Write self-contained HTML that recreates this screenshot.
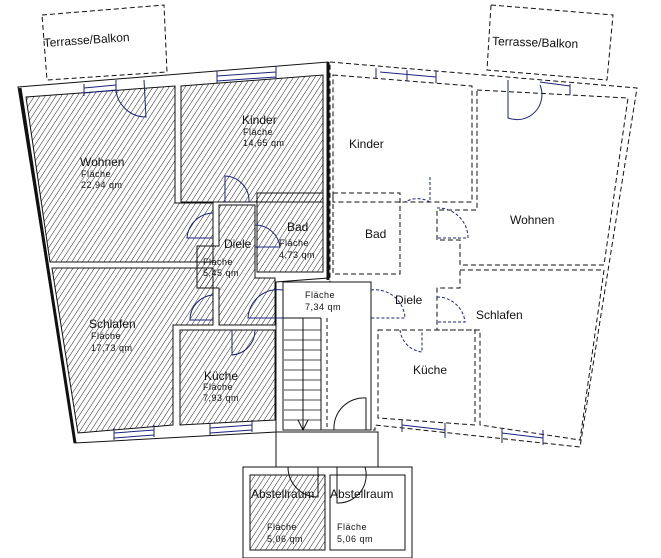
<!DOCTYPE html>
<html><head><meta charset="utf-8"><style>
html,body{margin:0;padding:0;background:#fff;}
svg{display:block}
text{font-family:"Liberation Sans",sans-serif;fill:#111}
.t{font-size:12px}.s{font-size:9px;letter-spacing:0.5px}
</style></head><body>
<svg width="661" height="558" viewBox="0 0 661 558" xmlns="http://www.w3.org/2000/svg">
<defs>
<pattern id="h" width="4.5" height="5" patternUnits="userSpaceOnUse" patternTransform="rotate(33)">
<line x1="0" y1="0" x2="0" y2="5" stroke="#222" stroke-width="1"/>
</pattern>
</defs>
<g fill="none" stroke="#111" stroke-width="1">
<polygon points="42,15 164,5 167,72 47,80" stroke-dasharray="5,3"/>
<polygon points="491,5 613,15 607,80 487,70" stroke-dasharray="5,3"/>
<polygon points="18,87 328,62 328,278 276,282 276,432 75,443"/>
<line x1="20" y1="88" x2="75" y2="443" stroke-width="3"/>
<line x1="328" y1="62" x2="328" y2="280" stroke-width="3"/>
</g>
<g fill="url(#h)" stroke="#111" stroke-width="1">
<polygon points="26,97 175,86 175,203 213,203 213,262 50,262"/>
<polygon points="181,86 323,75 323,202 181,202"/>
<polygon points="257,193 323,193 323,272 257,272"/>
<polygon points="219,205 255,205 255,278 275,278 275,325 219,325 219,288 197,288 197,246 219,246"/>
<polygon points="52,268 213,268 213,325 173,325 173,425 78,433"/>
<polygon points="180,330 275,330 275,420 180,425"/>
<polygon points="250,475 325,475 325,550 250,550"/>
</g>
<g fill="none" stroke="#111" stroke-width="1">
<rect x="283" y="282" width="88" height="148"/>
<line x1="283" y1="318" x2="321" y2="318"/><line x1="321" y1="318" x2="321" y2="430"/>
<line x1="303" y1="318" x2="303" y2="430"/>
<g stroke-width="0.8">
<line x1="284" y1="330" x2="321" y2="330"/><line x1="284" y1="340" x2="321" y2="340"/><line x1="284" y1="350" x2="321" y2="350"/><line x1="284" y1="360" x2="321" y2="360"/><line x1="284" y1="370" x2="321" y2="370"/><line x1="284" y1="380" x2="321" y2="380"/><line x1="284" y1="390" x2="321" y2="390"/><line x1="284" y1="400" x2="321" y2="400"/><line x1="284" y1="410" x2="321" y2="410"/><line x1="284" y1="420" x2="321" y2="420"/>
</g>
<polyline points="298,420 303,430 308,420"/>
<line x1="327" y1="318" x2="327" y2="430" stroke-dasharray="4,3"/>
<path d="M334,430 A30,30 0 0 1 366,398 L366,430"/>
<rect x="276" y="432" width="102" height="35"/>
<rect x="243" y="467" width="169" height="91"/>
<rect x="330" y="475" width="75" height="75"/>
<path d="M288,467 A30,30 0 0 0 318,497 L318,467"/>
<path d="M337,467 L337,503 A28,28 0 0 0 365,467"/>
<g stroke-dasharray="5,3">
<polygon points="330,62 637,88 580,447 375,425 375,430 371,430 371,282 330,282"/>
<polygon points="333,75 472,86 472,202 333,202"/>
<polygon points="333,193 400,193 400,274 333,274"/>
<polygon points="477,90 628,98 604,265 460,265 460,240 437,240 437,210 477,210"/>
<polygon points="460,270 604,270 580,440 480,425 480,330 437,330 437,288 460,288"/>
<polygon points="378,330 475,330 475,425 378,418"/>
</g>
</g>
<g fill="none" stroke="#1a237e" stroke-width="1">
<path d="M84,88 L116,85 M84,93 L116,90 M84,84 L84,96 M116,80 L116,93"/>
<path d="M116,85 A30,30 0 0 0 146,117 L144,80"/>
<path d="M217,76 L276,72 M217,81 L276,77 M217,71 L217,83 M276,66 L276,78"/>
<path d="M225,202 L225,176 A25,25 0 0 1 249,202"/>
<path d="M213,213 A27,27 0 0 0 187,238 L213,238"/>
<path d="M255,225 A25,25 0 0 1 280,247 L255,247"/>
<path d="M213,295 A25,25 0 0 0 190,320 L213,320"/>
<path d="M232,330 L232,355 A25,25 0 0 0 255,330"/>
<path d="M283,290 A30,30 0 0 0 248,318 L283,318"/>
<path d="M114,433 L154,430 M114,438 L154,435 M114,428 L114,440 M154,425 L154,437"/>
<path d="M210,428 L252,425 M210,433 L252,430 M210,423 L210,435 M252,420 L252,432"/>
<path d="M380,72 L436,77 M376,68 L376,78 M407,70 L407,81 M436,71 L436,83"/>
<path d="M508,80 L508,118 A25,25 0 0 0 540,85 M540,82 L570,86 M570,84 L570,95"/>
<path d="M430,177 L430,202 A25,25 0 0 0 405,202" stroke-dasharray="3,2"/>
<path d="M437,208 A30,30 0 0 1 468,238 L437,238" stroke-dasharray="3,2"/>
<path d="M371,290 A30,30 0 0 1 405,318 L371,318" stroke-dasharray="3,2"/>
<path d="M437,297 A28,28 0 0 1 465,322 L437,322" stroke-dasharray="3,2"/>
<path d="M400,330 A25,25 0 0 0 422,352 L422,330" stroke-dasharray="3,2"/>
<path d="M402,420 L402,432 M402,425 L445,430 M445,423 L445,438"/>
<path d="M502,428 L502,443 M502,433 L543,438 M543,430 L543,445"/>
</g>
<text class="t" x="44" y="47" transform="rotate(-4 44 47)">Terrasse/Balkon</text>
<text class="t" x="492" y="45" transform="rotate(2 492 45)">Terrasse/Balkon</text>
<text class="t" x="80" y="166">Wohnen</text>
<text class="s" x="81" y="177">Fläche</text><text class="s" x="81" y="188">22,94  qm</text>
<text class="t" x="242" y="124">Kinder</text>
<text class="s" x="243" y="135">Fläche</text><text class="s" x="243" y="146">14,65  qm</text>
<text class="t" x="287" y="231">Bad</text>
<text class="s" x="279" y="246">Fläche</text><text class="s" x="279" y="258">4,73  qm</text>
<text class="t" x="224" y="248">Diele</text>
<text class="s" x="203" y="265">Fläche</text><text class="s" x="203" y="276">5,45  qm</text>
<text class="s" x="305" y="298">Fläche</text><text class="s" x="305" y="310">7,34  qm</text>
<text class="t" x="89" y="328">Schlafen</text>
<text class="s" x="91" y="339">Fläche</text><text class="s" x="91" y="351">17,73  qm</text>
<text class="t" x="204" y="380">Küche</text>
<text class="s" x="203" y="390">Fläche</text><text class="s" x="203" y="401">7,93  qm</text>
<text class="t" x="251" y="498">Abstellraum</text>
<text class="t" x="330" y="498">Abstellraum</text>
<text class="s" x="267" y="530">Fläche</text><text class="s" x="267" y="542">5,06  qm</text>
<text class="s" x="337" y="530">Fläche</text><text class="s" x="337" y="542">5,06  qm</text>
<text class="t" x="349" y="148">Kinder</text>
<text class="t" x="365" y="238">Bad</text>
<text class="t" x="510" y="224">Wohnen</text>
<text class="t" x="395" y="304">Diele</text>
<text class="t" x="476" y="319">Schlafen</text>
<text class="t" x="413" y="374">Küche</text>
</svg>
</body></html>
